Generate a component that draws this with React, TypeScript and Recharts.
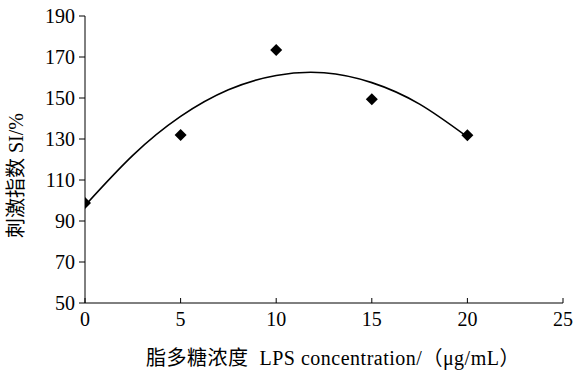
import React from 'react';
import { ComposedChart, Scatter, Line, XAxis, YAxis } from 'recharts';

// Measured stimulation index at each LPS concentration
const concentrations = [0, 5, 10, 15, 20];
const siValues = [98.8, 132, 173.4, 149.4, 131.8];

// Trendline
const trendX = [0, 2.5, 5, 7.5, 10, 12.5, 15, 17.5, 20];
const trendY = [97.5, 122, 141, 154, 161, 162.3, 157.5, 147, 131];

const xTicks = [0, 5, 10, 15, 20, 25];
const yTicks = [50, 70, 90, 110, 130, 150, 170, 190];

const yLabel = '刺激指数 SI/%';
const xLabel = '脂多糖浓度\u00a0\u00a0LPS concentration/（μg/mL）';

const points = concentrations.map((x, i) => ({ x, y: siValues[i] }));
const trend = trendX.map((x, i) => ({ x, y: trendY[i] }));

const FONT = "'Liberation Serif', 'Times New Roman', 'Noto Sans CJK SC', serif";

const Diamond = (props: any) => {
  const { cx, cy } = props;
  if (cx == null || cy == null) return null;
  const r = 6;
  return (
    <polygon
      points={`${cx},${cy - r} ${cx + r},${cy} ${cx},${cy + r} ${cx - r},${cy}`}
      fill="#000"
    />
  );
};

export default function App() {
  return (
    <div style={{ position: 'absolute', left: 0, top: 0, width: 574, height: 373, background: '#fff' }}>
      <ComposedChart
        width={574}
        height={373}
        margin={{ top: 16, right: 11, left: 0, bottom: 0 }}
      >
        <XAxis
          type="number"
          dataKey="x"
          domain={[0, 25]}
          ticks={xTicks}
          allowDataOverflow
          height={70}
          stroke="#000"
          tickSize={-5}
          tickMargin={14}
          tick={{ fill: '#000', fontSize: 20, fontFamily: FONT }}
          label={{
            content: (p: any) => {
              const vb = p.viewBox || {};
              return (
                <text
                  x={vb.x + vb.width / 2 + 9}
                  y={vb.y + 62}
                  textAnchor="middle"
                  fontSize={20}
                  letterSpacing={0.5}
                  fontFamily={FONT}
                  fill="#000"
                >
                  {xLabel}
                </text>
              );
            },
          }}
        />
        <YAxis
          type="number"
          dataKey="y"
          domain={[50, 190]}
          ticks={yTicks}
          allowDataOverflow
          width={85}
          stroke="#000"
          tickSize={6}
          tickMargin={4}
          tick={{ fill: '#000', fontSize: 20, fontFamily: FONT }}
          label={{
            content: (p: any) => {
              const vb = p.viewBox || {};
              const cx = 23;
              const cy = vb.y + vb.height / 2 + 16;
              return (
                <text
                  x={cx}
                  y={cy}
                  textAnchor="middle"
                  transform={`rotate(-90, ${cx}, ${cy})`}
                  fontSize={20}
                  fontFamily={FONT}
                  fill="#000"
                >
                  {yLabel}
                </text>
              );
            },
          }}
        />
        <Line
          data={trend}
          dataKey="y"
          type="natural"
          stroke="#000"
          strokeWidth={1.6}
          dot={false}
          activeDot={false}
          isAnimationActive={false}
        />
        <Scatter
          data={points}
          dataKey="y"
          shape={<Diamond />}
          isAnimationActive={false}
        />
      </ComposedChart>
    </div>
  );
}
